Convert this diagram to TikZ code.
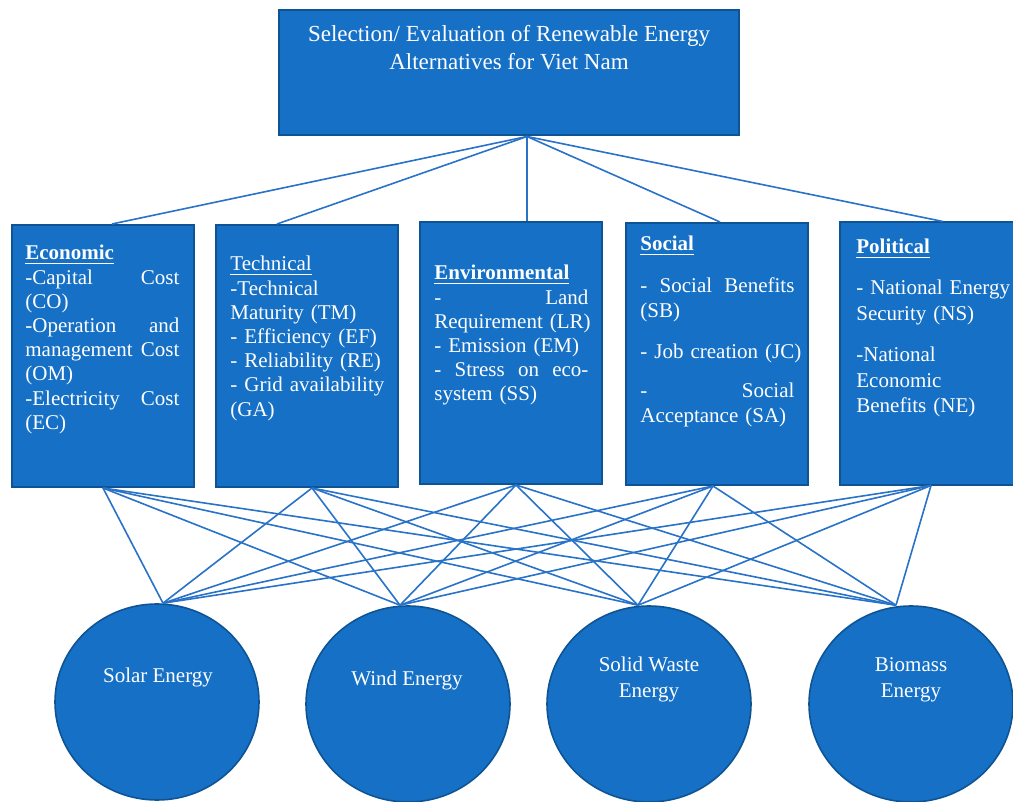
\documentclass[tikz,border=0pt]{standalone}
\usepackage{fontspec}
\setmainfont{Liberation Serif}
\usetikzlibrary{shapes.geometric}
\definecolor{boxblue}{RGB}{21,112,198}
\definecolor{boxline}{RGB}{14,84,148}
\definecolor{linkblue}{RGB}{40,114,200}
\tikzset{
  box/.style={draw=boxline, fill=boxblue, line width=1pt, inner sep=0pt},
  critbox/.style={box, minimum width=91pt, minimum height=131pt},
  altnode/.style={ellipse, draw=boxline, fill=boxblue, line width=0.8pt, inner sep=0pt,
    minimum width=102pt, minimum height=98pt},
  txt/.style={text=white, inner sep=0pt, font=\fontsize{10.5}{12.1}\selectfont},
  crittxt/.style={txt, anchor=north west, text width=77pt, align=left},
  alttxt/.style={txt, align=center, font=\fontsize{10.5}{13}\selectfont},
  link/.style={draw=linkblue, line width=0.8pt},
}
\begin{document}
\begin{tikzpicture}[x=0.5pt,y=-0.5pt]
    \useasboundingbox (0,0) rectangle (1013,802);
        % goal
        \node[box, minimum width=230pt, minimum height=62.5pt] (goal) at (509,73) {};
        \node[txt, align=center, font=\fontsize{11.5}{14}\selectfont] (goaltxt) at (509,48)
            {Selection/ Evaluation of Renewable Energy\\Alternatives for Viet Nam};
        % criteria
        \node[critbox] (eco) at (103,356) {};
        \node[critbox] (tech) at (307,356) {};
        \node[critbox] (env) at (511,353) {};
        \node[critbox] (soc) at (717,354) {};
        \node[critbox] (pol) at (931,353.5) {};
        \node[crittxt] (ecotxt) at (25,245) {\underline{\textbf{Economic}}\\
            -Capital\hfill Cost\\(CO)\\-Operation\hfill and\\management\hfill Cost\\(OM)\\
            -Electricity\hfill Cost\\(EC)};
        \node[crittxt] (techtxt) at (230,256) {\underline{Technical}\\
            -Technical\\Maturity (TM)\\- Efficiency (EF)\\- Reliability (RE)\\
            \mbox{- Grid availability}\\(GA)};
        \node[crittxt] (envtxt) at (434,265) {\underline{\textbf{Environmental}}\\
            -\hfill Land\\\mbox{Requirement (LR)}\\- Emission (EM)\\
            -\hfill Stress\hfill on\hfill eco-\\system (SS)};
        \node[crittxt, font=\fontsize{10.5}{12.6}\selectfont] (soctxt) at (640,236)
            {\underline{\textbf{Social}}\\[8pt]
            -\hfill Social\hfill Benefits\\(SB)\\[8pt]
            \mbox{- Job creation (JC)}\\[7pt]
            -\hfill Social\\Acceptance (SA)};
        \node[crittxt, font=\fontsize{10.5}{12.8}\selectfont] (poltxt) at (856,239)
            {\underline{\textbf{Political}}\\[7.7pt]
            \mbox{- National Energy}\\Security (NS)\\[7.7pt]
            -National\\Economic\\Benefits (NE)};
        % alternatives
        \node[altnode] (solar) at (157,702) {};
        \node[altnode] (wind) at (408,704) {};
        \node[altnode] (waste) at (649,704) {};
        \node[altnode] (bio) at (911,704) {};
        \node[alttxt] (solartxt) at (158,677) {Solar Energy};
        \node[alttxt] (windtxt) at (407,680) {Wind Energy};
        \node[alttxt] (wastetxt) at (649,679.5) {Solid Waste\\Energy};
        \node[alttxt] (biotxt) at (911,679.5) {Biomass\\Energy};
        % join points
        \coordinate (goal-out) at ([xshift=9pt]goal.south);
        \coordinate (eco-in) at ([xshift=4.5pt]eco.north);
        \coordinate (tech-in) at ([xshift=-15pt]tech.north);
        \coordinate (env-in) at ([xshift=8pt]env.north);
        \coordinate (soc-in) at ([xshift=1.5pt]soc.north);
        \coordinate (pol-in) at ([xshift=6pt]pol.north);
        \coordinate (eco-out) at (eco.south);
        \coordinate (tech-out) at ([xshift=2.5pt]tech.south);
        \coordinate (env-out) at ([xshift=2.5pt]env.south);
        \coordinate (soc-out) at ([xshift=-2pt]soc.south);
        \coordinate (pol-out) at (pol.south);
        \coordinate (solar-in) at ([xshift=3pt]solar.north);
        \coordinate (wind-in) at ([xshift=-4pt]wind.north);
        \coordinate (waste-in) at ([xshift=-5.5pt]waste.north);
        \coordinate (bio-in) at ([xshift=-7.5pt]bio.north);
        % goal to criteria
        \draw[link] (goal-out) -- (eco-in);
        \draw[link] (goal-out) -- (tech-in);
        \draw[link] (goal-out) -- (env-in);
        \draw[link] (goal-out) -- (soc-in);
        \draw[link] (goal-out) -- (pol-in);
        % criteria to alternatives
        \draw[link] (eco-out) -- (solar-in);
        \draw[link] (eco-out) -- (wind-in);
        \draw[link] (eco-out) -- (waste-in);
        \draw[link] (eco-out) -- (bio-in);
        \draw[link] (tech-out) -- (solar-in);
        \draw[link] (tech-out) -- (wind-in);
        \draw[link] (tech-out) -- (waste-in);
        \draw[link] (tech-out) -- (bio-in);
        \draw[link] (env-out) -- (solar-in);
        \draw[link] (env-out) -- (wind-in);
        \draw[link] (env-out) -- (waste-in);
        \draw[link] (env-out) -- (bio-in);
        \draw[link] (soc-out) -- (solar-in);
        \draw[link] (soc-out) -- (wind-in);
        \draw[link] (soc-out) -- (waste-in);
        \draw[link] (soc-out) -- (bio-in);
        \draw[link] (pol-out) -- (solar-in);
        \draw[link] (pol-out) -- (wind-in);
        \draw[link] (pol-out) -- (waste-in);
        \draw[link] (pol-out) -- (bio-in);
    \end{tikzpicture}
\end{document}
